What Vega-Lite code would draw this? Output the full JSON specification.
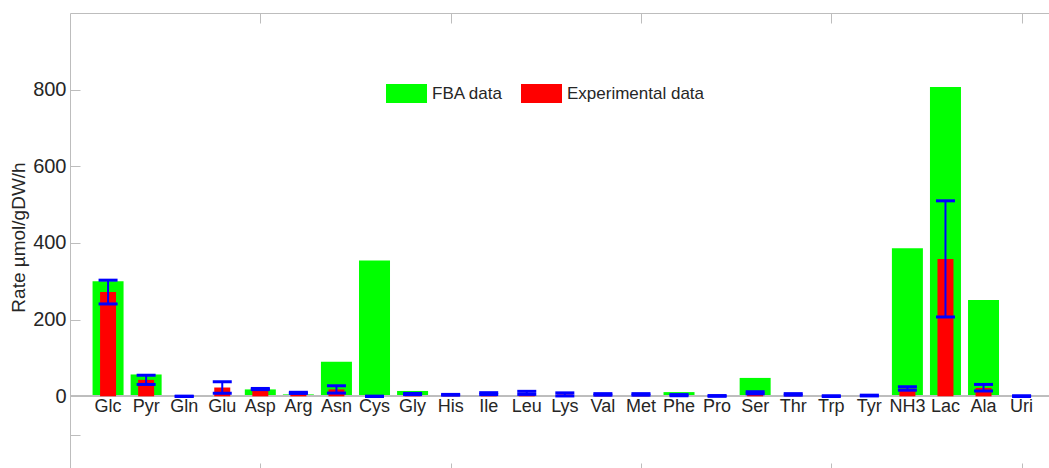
{
  "$schema": "https://vega.github.io/schema/vega-lite/v6.json",
  "width": 979,
  "height": 455,
  "autosize": {"type": "none"},
  "padding": {"left": 70, "top": 13, "right": 0, "bottom": 0},
  "background": "white",
  "config": {"view": {"stroke": null}, "font": "Liberation Sans"},
  "data": {"values": [
    {"i": 1, "name": "Glc", "fba": 300, "exp": 272, "lo": 241, "hi": 303},
    {"i": 2, "name": "Pyr", "fba": 57, "exp": 43, "lo": 31, "hi": 55},
    {"i": 3, "name": "Gln", "fba": 0, "exp": 0, "lo": -0.5, "hi": 0.5},
    {"i": 4, "name": "Glu", "fba": 1, "exp": 23, "lo": 8, "hi": 38},
    {"i": 5, "name": "Asp", "fba": 18, "exp": 19, "lo": 17.5, "hi": 20.5},
    {"i": 6, "name": "Arg", "fba": 5, "exp": 9, "lo": 7.5, "hi": 10.5},
    {"i": 7, "name": "Asn", "fba": 90, "exp": 18, "lo": 8.5, "hi": 27.5},
    {"i": 8, "name": "Cys", "fba": 354, "exp": 0, "lo": -0.5, "hi": 0.5},
    {"i": 9, "name": "Gly", "fba": 14, "exp": 6, "lo": 4.5, "hi": 7.5},
    {"i": 10, "name": "His", "fba": 1, "exp": 4, "lo": 3, "hi": 5},
    {"i": 11, "name": "Ile", "fba": 1, "exp": 7, "lo": 4.5, "hi": 9.5},
    {"i": 12, "name": "Leu", "fba": 2, "exp": 9, "lo": 5, "hi": 13},
    {"i": 13, "name": "Lys", "fba": 3, "exp": 5, "lo": 1, "hi": 9},
    {"i": 14, "name": "Val", "fba": 0, "exp": 5, "lo": 3, "hi": 7},
    {"i": 15, "name": "Met", "fba": 0, "exp": 5, "lo": 3, "hi": 7},
    {"i": 16, "name": "Phe", "fba": 11, "exp": 3, "lo": 1.5, "hi": 4.5},
    {"i": 17, "name": "Pro", "fba": 0, "exp": 1, "lo": 0, "hi": 2},
    {"i": 18, "name": "Ser", "fba": 48, "exp": 9, "lo": 6.5, "hi": 12},
    {"i": 19, "name": "Thr", "fba": 1, "exp": 5, "lo": 3, "hi": 7},
    {"i": 20, "name": "Trp", "fba": 0, "exp": 0.5, "lo": -0.5, "hi": 1.5},
    {"i": 21, "name": "Tyr", "fba": 2, "exp": 2, "lo": 1, "hi": 3},
    {"i": 22, "name": "NH3", "fba": 386, "exp": 20, "lo": 16, "hi": 25},
    {"i": 23, "name": "Lac", "fba": 807, "exp": 358, "lo": 207, "hi": 510},
    {"i": 24, "name": "Ala", "fba": 251, "exp": 22, "lo": 14, "hi": 31},
    {"i": 25, "name": "Uri", "fba": 2, "exp": 0.5, "lo": -0.5, "hi": 1.5}
  ]},
  "layer": [
    {
      "mark": {"type": "bar", "width": 31},
      "encoding": {
        "x": {"field": "i", "type": "quantitative",
          "scale": {"domain": [0, 25.72], "nice": false, "zero": false, "padding": 0},
          "axis": {"orient": "top", "values": [5, 10, 15, 20, 25], "labels": false, "tickSize": -10,
                   "domainColor": "#bdbdbd", "tickColor": "#bdbdbd", "title": null, "grid": false}},
        "y": {"field": "fba", "type": "quantitative",
          "scale": {"domain": [-187, 1000], "nice": false, "zero": false, "padding": 0},
          "axis": {"orient": "left", "values": [-100, 0, 200, 400, 600, 800],
                   "labelExpr": "datum.value < 0 ? '' : datum.label",
                   "tickSize": -10, "domainColor": "#bdbdbd", "tickColor": "#bdbdbd", "grid": false,
                   "labelFontSize": 20, "labelColor": "#262626", "labelPadding": 14,
                   "title": "Rate µmol/gDW/h", "titleFontSize": 19, "titleFontWeight": "normal",
                   "titleColor": "#262626", "titleX": -52, "titleY": 224, "titleAngle": -90,
                   "titleAlign": "center", "titleBaseline": "middle"}},
        "color": {"datum": "FBA data",
          "scale": {"domain": ["FBA data", "Experimental data"], "range": ["#00ff00", "#ff0000"]},
          "legend": {"orient": "none", "legendX": 316, "legendY": 60, "direction": "horizontal",
                     "title": null, "symbolType": "M-1,-0.463H1V0.463H-1Z", "symbolSize": 1681,
                     "symbolStrokeWidth": 0, "labelFontSize": 17, "labelColor": "#262626",
                     "labelOffset": 5, "columnPadding": 18, "padding": 0}}
      }
    },
    {
      "mark": {"type": "rule", "color": "#bdbdbd", "strokeWidth": 1.5},
      "encoding": {"y": {"datum": 0, "type": "quantitative", "axis": null}}
    },
    {
      "mark": {"type": "bar", "width": 16},
      "encoding": {
        "x": {"field": "i", "type": "quantitative",
          "axis": {"orient": "bottom", "values": [5, 10, 15, 20, 25], "labels": false, "tickSize": -5,
                   "domain": false, "tickColor": "#bdbdbd", "title": null, "grid": false}},
        "y": {"field": "exp", "type": "quantitative", "axis": null},
        "color": {"datum": "Experimental data"}
      }
    },
    {
      "mark": {"type": "rule", "color": "#0000ff", "strokeWidth": 2},
      "encoding": {
        "x": {"field": "i", "type": "quantitative", "axis": null},
        "y": {"field": "lo", "type": "quantitative", "axis": null},
        "y2": {"field": "hi"}
      }
    },
    {
      "mark": {"type": "tick", "orient": "horizontal", "color": "#0000ff", "size": 19, "thickness": 3, "opacity": 1},
      "encoding": {
        "x": {"field": "i", "type": "quantitative", "axis": null},
        "y": {"field": "lo", "type": "quantitative", "axis": null}
      }
    },
    {
      "mark": {"type": "tick", "orient": "horizontal", "color": "#0000ff", "size": 19, "thickness": 3, "opacity": 1},
      "encoding": {
        "x": {"field": "i", "type": "quantitative", "axis": null},
        "y": {"field": "hi", "type": "quantitative", "axis": null}
      }
    },
    {
      "mark": {"type": "text", "fontSize": 18, "baseline": "top", "dy": 2, "color": "#262626", "align": "center"},
      "encoding": {
        "x": {"field": "i", "type": "quantitative", "axis": null},
        "y": {"datum": 0, "type": "quantitative", "axis": null},
        "text": {"field": "name"}
      }
    }
  ],
  "resolve": {"axis": {"x": "independent", "y": "independent"}}
}
